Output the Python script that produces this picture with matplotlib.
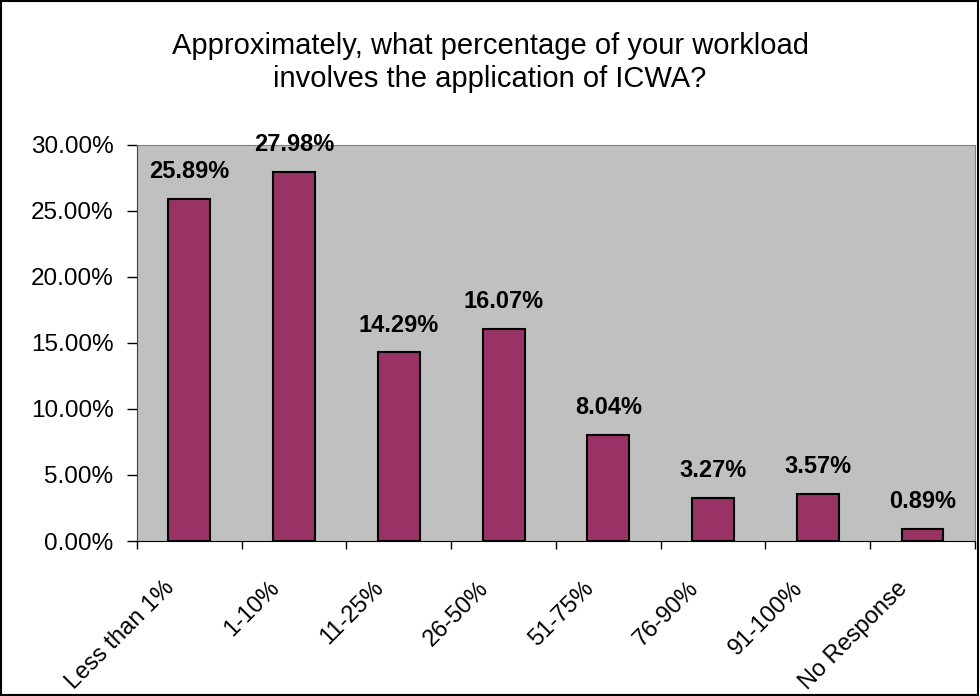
import matplotlib
matplotlib.use("Agg")
import matplotlib.pyplot as plt
import matplotlib.transforms as mtransforms
from matplotlib.ticker import PercentFormatter, FixedLocator, NullFormatter
from matplotlib.patches import Rectangle

plt.rcParams['font.family'] = ['Liberation Sans', 'DejaVu Sans']

# data
categories = ['Less than 1%', '1-10%', '11-25%', '26-50%', '51-75%',
              '76-90%', '91-100%', 'No Response']
values = [25.89, 27.98, 14.29, 16.07, 8.04, 3.27, 3.57, 0.89]
y_ticks = [0, 5, 10, 15, 20, 25, 30]

fig = plt.figure(figsize=(9.8, 6.96), dpi=100)
ax = fig.add_axes([0.1398, 0.2227, 0.855, 0.569])

x = list(range(len(categories)))
ax.bar(x, values, width=0.4, color='#993366', edgecolor='black', linewidth=1.5, zorder=3)

for xi, v in zip(x, values):
    ax.text(xi, v + 1.2, f'{v:.2f}%', ha='center', va='bottom',
            fontsize=17, fontweight='bold', zorder=4)

ax.set_facecolor('#C0C0C0')
ax.set_xlim(-0.5, len(categories) - 0.5)
ax.set_ylim(0, 30)
ax.set_yticks(y_ticks)
ax.yaxis.set_major_formatter(PercentFormatter(decimals=2))
ax.tick_params(axis='y', labelsize=17.5, length=7, width=1, direction='out', pad=10)

# category boundaries carry the tick marks, labels sit at the centres
ax.xaxis.set_major_locator(FixedLocator([i - 0.5 for i in range(len(categories) + 1)]))
ax.xaxis.set_major_formatter(NullFormatter())
ax.xaxis.set_minor_locator(FixedLocator(x))
ax.set_xticklabels(categories, minor=True, rotation=45, ha='right', va='top',
                   rotation_mode='anchor', fontsize=17)
ax.tick_params(axis='x', which='major', length=6, width=1, direction='out')
ax.tick_params(axis='x', which='minor', length=0, pad=26)
shift = mtransforms.ScaledTranslation(-0.26, 0, fig.dpi_scale_trans)
for lab in ax.get_xticklabels(minor=True):
    lab.set_transform(lab.get_transform() + shift)

for side in ['top', 'right']:
    ax.spines[side].set_color('#808080')
ax.spines['left'].set_color('#404040')
ax.spines['bottom'].set_color('black')

fig.text(0.5, 0.91, 'Approximately, what percentage of your workload\ninvolves the application of ICWA?',
         ha='center', va='center', fontsize=21, linespacing=1.25)

fig.patches.append(Rectangle((0.001, 0.001), 0.997, 0.997, transform=fig.transFigure,
                             fill=False, edgecolor='black', linewidth=1.5))

fig.savefig('out.png', dpi=100)
